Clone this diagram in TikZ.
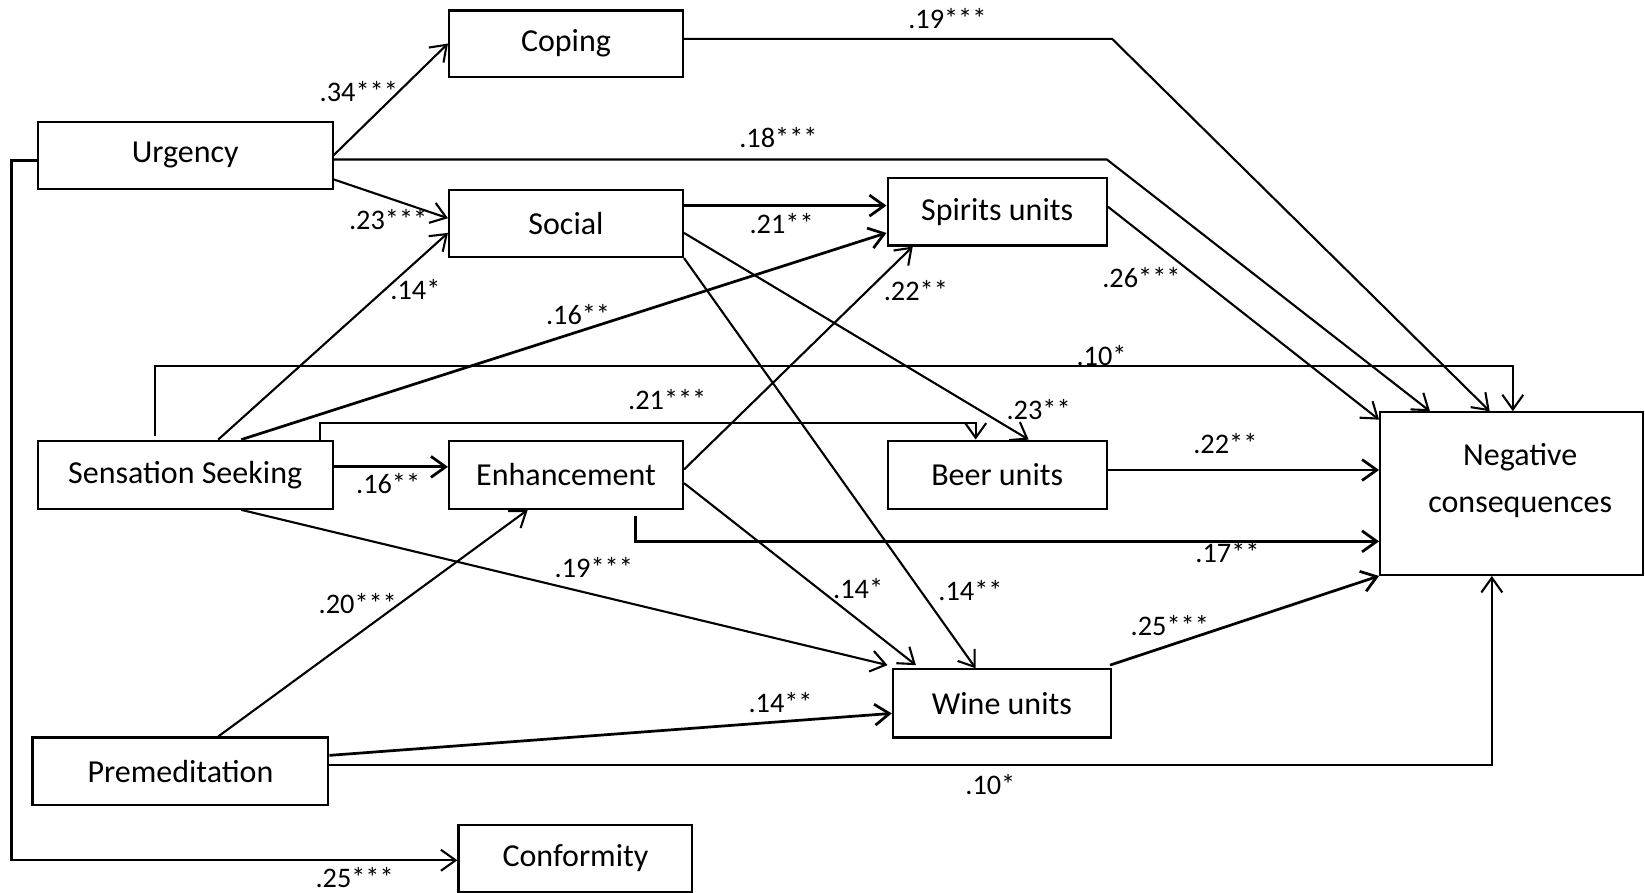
\documentclass[tikz,border=0pt]{standalone}
\usepackage{fontspec}
\setmainfont{Carlito}
\usetikzlibrary{arrows.meta}
\newcommand{\BoxFont}{\fontsize{30.5}{44}\selectfont}
\newcommand{\PathFont}{\fontsize{27}{30}\selectfont}

\begin{document}
\begin{tikzpicture}[x=1pt,y=-1pt,
  box/.style={draw,line width=2pt,inner sep=0pt,font=\BoxFont},
  arr/.style={line width=2pt,-{Straight Barb[length=14pt,width=20pt]}},
  thickarr/.style={arr,line width=2.6pt},
  coef/.style={font=\PathFont,inner sep=0pt}]
\useasboundingbox (0,0) rectangle (1568,851);

\node[box,minimum width=223pt,minimum height=63pt] (coping) at (539.5,41.5) {Coping};
\node[box,minimum width=281pt,minimum height=64pt] (urg) at (176.5,148) {Urgency};
\node[box,minimum width=223pt,minimum height=64pt] (soc) at (539.5,213) {Social};
\node[box,minimum width=209pt,minimum height=64pt] (spi) at (950.5,202) {Spirits units};
\node[box,minimum width=281pt,minimum height=65pt] (ss) at (176.5,452.5) {Sensation Seeking};
\node[box,minimum width=223pt,minimum height=65pt] (enh) at (539.5,452.5) {Enhancement};
\node[box,minimum width=209pt,minimum height=65pt] (beer) at (950.5,452.5) {Beer units};
\node[box,minimum width=251pt,minimum height=155pt] (neg) at (1441,470.5) {};
\node[font=\BoxFont,align=center,inner sep=0pt] (negtxt) at (1449,458) {Negative\\consequences};
\node[box,minimum width=208pt,minimum height=65pt] (wine) at (955,670.5) {Wine units};
\node[box,minimum width=282pt,minimum height=64pt] (prem) at (172,735) {Premeditation};
\node[box,minimum width=223pt,minimum height=64pt] (conf) at (548.5,818) {Conformity};

\coordinate (bendcop) at (1060,37);
\coordinate (bendurg) at (1055,152);

\draw[arr] (urg.east) -- (coping.west);
\draw[arr] ([yshift=-23pt]urg.east) -- ([yshift=5pt]soc.west);
\draw[arr] ([yshift=-4pt]urg.east) -- (bendurg) -- ([xshift=-78pt]neg.north);
\draw[arr] ([yshift=4.5pt]coping.east) -- (bendcop) -- ([xshift=-21pt]neg.north);
\draw[arr] ([yshift=-5pt]urg.west) -- ++(-24,0) |- ([yshift=-2pt]conf.west);
\draw[thickarr] ([yshift=17pt]soc.east) -- ([yshift=6pt]spi.west);
\draw[arr] ([yshift=-9pt]soc.east) -- ([xshift=30pt]beer.north);
\draw[arr] (soc.south east) -- ([xshift=-25pt]wine.north);
\draw[arr] ([xshift=31.5pt]ss.north) -- ([yshift=-9pt]soc.west);
\draw[thickarr] ([xshift=53.5pt]ss.north) -- ([yshift=-20pt]spi.west);
\draw[arr] ([xshift=-28.5pt,yshift=3pt]ss.north) -- ++(0,-67) -| ([xshift=1pt]neg.north);
\draw[arr] ([xshift=128.5pt]ss.north) -- ++(0,-16) -| ([xshift=-20.5pt]beer.north);
\draw[thickarr] ([yshift=7.5pt]ss.east) -- ([yshift=7.5pt]enh.west);
\draw[arr] ([xshift=53.5pt]ss.south) -- ([xshift=-4pt,yshift=3pt]wine.north west);
\draw[arr] ([yshift=5pt]enh.east) -- ([xshift=-80.5pt]spi.south);
\draw[arr] ([yshift=-8pt]enh.east) -- ([xshift=-82pt,yshift=3pt]wine.north);
\draw[thickarr] ([xshift=66.5pt,yshift=-6pt]enh.south) |- ([yshift=-45.5pt]neg.west);
\draw[arr] ([xshift=36pt]prem.north) -- ([xshift=-36.5pt]enh.south);
\draw[thickarr] ([yshift=15pt]prem.east) -- ([yshift=-9.5pt]wine.west);
\draw[arr] ([yshift=6pt]prem.east) -| ([xshift=-19pt]neg.south);
\draw[arr] ([yshift=5pt]spi.east) -- ([yshift=-8pt]neg.north west);
\draw[thickarr] ([yshift=4.5pt]beer.east) -- ([yshift=22.5pt]neg.west);
\draw[thickarr] ([xshift=-2pt,yshift=3pt]wine.north east) -- (neg.south west);

\node[coef] (c1) at (342,87) {.34***};
\node[coef] (c2) at (370,209) {.23***};
\node[coef] (c3) at (742,131) {.18***};
\node[coef] (c4) at (903,18) {.19***};
\node[coef] (c5) at (338,836) {.25***};
\node[coef] (c6) at (745,213) {.21**};
\node[coef] (c7) at (990,390) {.23**};
\node[coef] (c8) at (925,563) {.14**};
\node[coef] (c9) at (396,276) {.14*};
\node[coef] (c10) at (551,300) {.16**};
\node[coef] (c11) at (1050,339) {.10*};
\node[coef] (c12) at (636,381) {.21***};
\node[coef] (c13) at (370,461) {.16**};
\node[coef] (c14) at (566,541) {.19***};
\node[coef] (c15) at (873,277) {.22**};
\node[coef] (c16) at (818,561) {.14*};
\node[coef] (c17) at (1170,527) {.17**};
\node[coef] (c18) at (341,575) {.20***};
\node[coef] (c19) at (744,670) {.14**};
\node[coef] (c20) at (944,748) {.10*};
\node[coef] (c21) at (1088,265) {.26***};
\node[coef] (c22) at (1168,423) {.22**};
\node[coef] (c23) at (1115,596) {.25***};
\end{tikzpicture}
\end{document}
